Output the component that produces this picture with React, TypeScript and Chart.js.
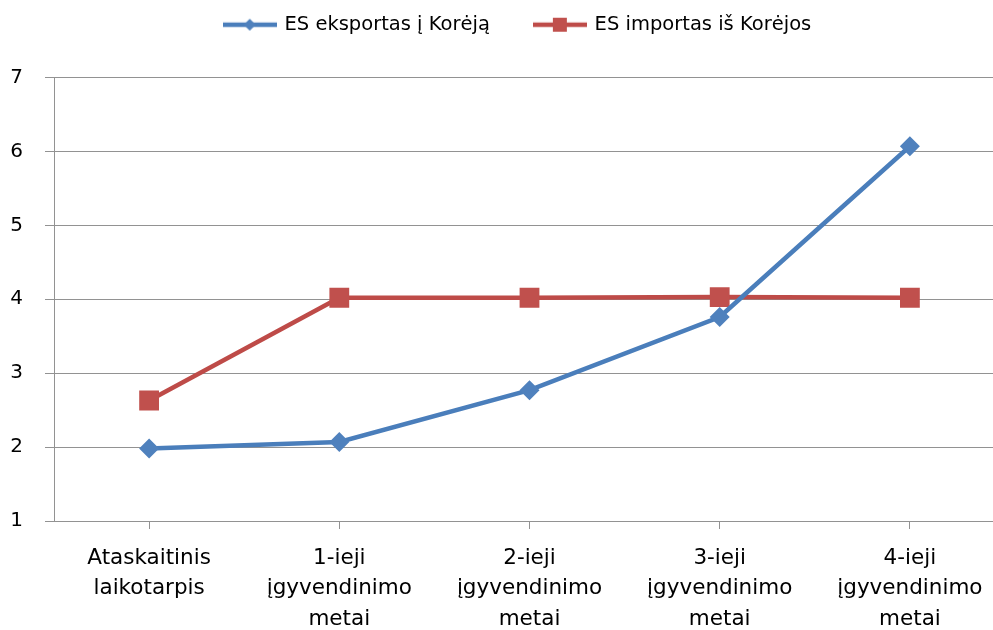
import React, { useEffect, useRef } from "react";
import { Chart, registerables } from "chart.js";

Chart.register(...registerables);

const categories: string[][] = [
  ["Ataskaitinis", "laikotarpis"],
  ["1-ieji", "įgyvendinimo", "metai"],
  ["2-ieji", "įgyvendinimo", "metai"],
  ["3-ieji", "įgyvendinimo", "metai"],
  ["4-ieji", "įgyvendinimo", "metai"],
];
const exportLabel = "ES eksportas į Korėją";
const importLabel = "ES importas iš Korėjos";
const exportValues = [1.98, 2.07, 2.77, 3.76, 6.07];
const importValues = [2.63, 4.02, 4.02, 4.03, 4.02];
const yMin = 1;
const yMax = 7;

const BLUE_LINE = "#4A7EBB";
const BLUE_MARK = "#4F81BD";
const RED_LINE = "#BE4B48";
const RED_MARK = "#C0504D";
const GRID = "#929292";
const FONT = "'DejaVu Sans'";

function legendIcon(lineColor: string, markColor: string, shape: "diamond" | "square") {
  const c = document.createElement("canvas");
  c.width = 54;
  c.height = 20;
  const ctx = c.getContext("2d")!;
  ctx.strokeStyle = lineColor;
  ctx.lineWidth = 4.5;
  ctx.beginPath();
  ctx.moveTo(0, 10);
  ctx.lineTo(54, 10);
  ctx.stroke();
  ctx.fillStyle = markColor;
  const cx = 27;
  if (shape === "diamond") {
    ctx.beginPath();
    ctx.moveTo(cx, 4);
    ctx.lineTo(cx + 6, 10);
    ctx.lineTo(cx, 16);
    ctx.lineTo(cx - 6, 10);
    ctx.closePath();
    ctx.fill();
  } else {
    ctx.fillRect(cx - 7, 3, 14, 14);
  }
  return c;
}

export default function App() {
  const ref = useRef<HTMLCanvasElement | null>(null);
  useEffect(() => {
    if (!ref.current) return;
    const icons = [
      legendIcon(BLUE_LINE, BLUE_MARK, "diamond"),
      legendIcon(RED_LINE, RED_MARK, "square"),
    ];
    const chart = new Chart(ref.current, {
      type: "line",
      data: {
        labels: categories,
        datasets: [
          {
            label: exportLabel,
            data: exportValues,
            borderColor: BLUE_LINE,
            backgroundColor: BLUE_MARK,
            borderWidth: 4.5,
            pointStyle: "rectRot",
            pointRadius: 10,
            pointBorderWidth: 0,
            pointBackgroundColor: BLUE_MARK,
            tension: 0,
          },
          {
            label: importLabel,
            data: importValues,
            borderColor: RED_LINE,
            backgroundColor: RED_MARK,
            borderWidth: 4.5,
            pointStyle: "rect",
            pointRadius: 14,
            pointBorderWidth: 0,
            pointBackgroundColor: RED_MARK,
            tension: 0,
          },
        ],
      },
      options: {
        animation: false,
        responsive: false,
        maintainAspectRatio: false,
        layout: { padding: { left: 0, right: 0, top: -30, bottom: 0 } },
        plugins: {
          tooltip: { enabled: false },
          title: {
            display: true,
            text: "",
            position: "right",
            fullSize: false,
            padding: { top: 0, bottom: 30 },
            font: { size: 1, lineHeight: 1 },
          } as any,
          subtitle: {
            display: true,
            text: "",
            weight: 500,
            padding: { top: 0, bottom: 32 },
            font: { size: 1, lineHeight: 1 },
          } as any,
          legend: {
            position: "top",
            labels: {
              usePointStyle: true,
              pointStyleWidth: 50,
              padding: 45,
              color: "#000",
              font: { family: FONT, size: 19.5 },
              generateLabels: (chart: any) => {
                const items = Chart.defaults.plugins.legend.labels.generateLabels(chart);
                return items.map((it: any, i: number) => ({ ...it, pointStyle: icons[i] }));
              },
            },
          },
        },
        scales: {
          x: {
            offset: true,
            border: { display: true, color: GRID, width: 1 },
            grid: { display: true, drawOnChartArea: false, offset: false, color: GRID, tickLength: 8 },
            ticks: {
              color: "#000",
              font: { family: FONT, size: 21.5, lineHeight: 1.42 },
              padding: 14,
              maxRotation: 0,
              autoSkip: false,
            },
            afterFit: (s: any) => {
              s.height = 109;
              s.paddingLeft = 0;
              s.paddingRight = 0;
            },
          },
          y: {
            min: yMin,
            max: yMax,
            border: { display: true, color: GRID, width: 1 },
            grid: { color: GRID, tickLength: 9, lineWidth: 1 },
            ticks: {
              stepSize: 1,
              color: "#000",
              font: { family: FONT, size: 20 },
              padding: 22,
            },
            afterFit: (s: any) => {
              s.width = 54;
            },
          },
        },
      },
    });
    return () => chart.destroy();
  }, []);
  return (
    <div style={{ position: "fixed", left: 0, top: 0, width: 993, height: 630, overflow: "hidden", background: "#fff" }}>
      <canvas ref={ref} width={1036} height={630} style={{ display: "block", width: 1036, height: 630 }} />
    </div>
  );
}
